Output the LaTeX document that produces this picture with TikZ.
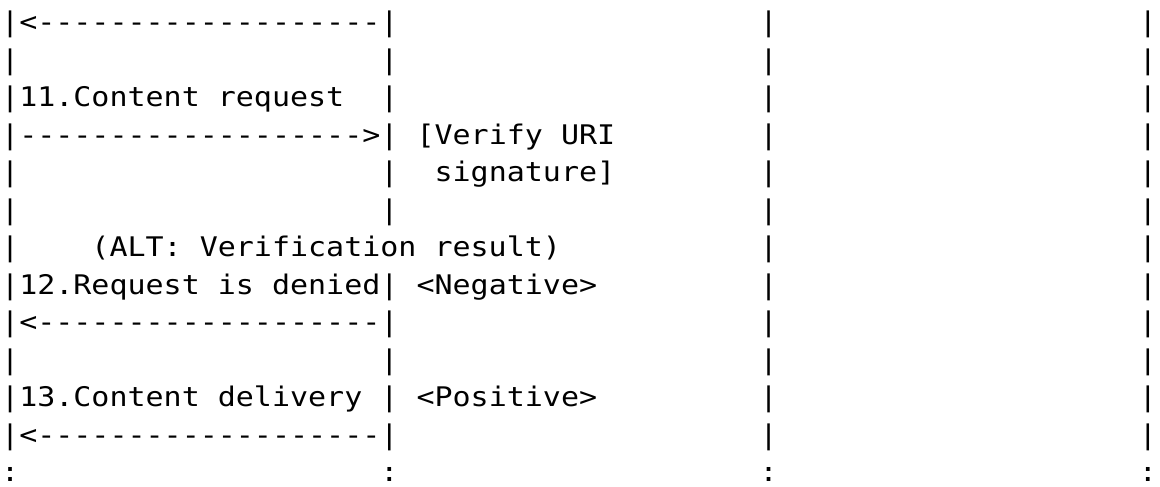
\documentclass[tikz,border=0pt]{standalone}
\usepackage{fontspec}
\setmonofont{DejaVu Sans Mono}[FakeStretch=1.111]
\begin{document}
\begin{tikzpicture}[x=18.06pt, y=-37.5pt, every node/.append style={text=black, font=\ttfamily\fontsize{27}{37.5}\selectfont, inner sep=0, anchor=base west}]
	\useasboundingbox (-0.055,0.147) rectangle (64.18,13.134);
	
	% lifelines
	\foreach \c/\rows in {0/{1,...,12}, 21/{1,...,6,8,9,...,12}, 42/{1,...,12}, 63/{1,...,12}}
	{
		\foreach \r in \rows
		{
			\node (bar\c-\r) at (\c, \r) {|};
		}
		\node (end\c) at (\c, 13) {:};
	}
	
	% messages
	\node (arr10) at (1, 1) {<-------------------};
	\node (msg11) at (1, 3) {11.Content request};
	\node (arr11) at (1, 4) {------------------->};
	\node (ver1) at (23, 4) {[Verify URI};
	\node (ver2) at (24, 5) {signature]};
	\node (alt) at (5, 7) {(ALT: Verification result)};
	\node (msg12) at (1, 8) {12.Request is denied};
	\node (neg) at (23, 8) {<Negative>};
	\node (arr12) at (1, 9) {<-------------------};
	\node (msg13) at (1, 11) {13.Content delivery};
	\node (pos) at (23, 11) {<Positive>};
	\node (arr13) at (1, 12) {<-------------------};
	
\end{tikzpicture}
\end{document}
